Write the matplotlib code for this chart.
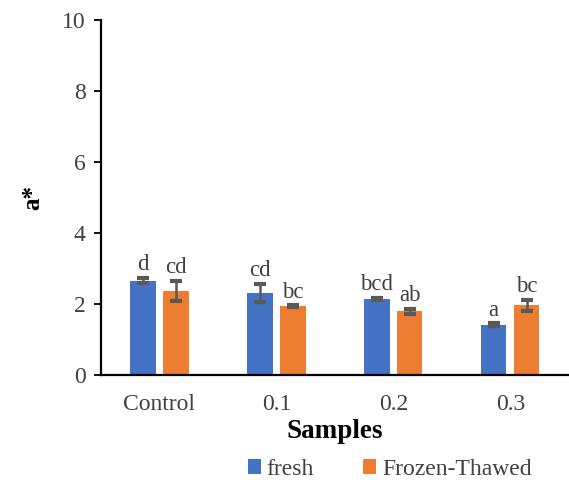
import numpy as np
import matplotlib
matplotlib.use("Agg")
import matplotlib.pyplot as plt

samples = ["Control", "0.1", "0.2", "0.3"]
fresh = [2.66, 2.31, 2.14, 1.42]
fresh_err = [0.08, 0.25, 0.03, 0.03]
thawed = [2.37, 1.93, 1.80, 1.96]
thawed_err = [0.29, 0.03, 0.07, 0.15]
fresh_letters = ["d", "cd", "bcd", "a"]
thawed_letters = ["cd", "bc", "ab", "bc"]

BLUE = "#4472c4"; ORANGE = "#ed7d31"; ERR = "#595959"; TXT = "#404040"
plt.rcParams["font.family"] = ["Liberation Serif", "DejaVu Serif"]

fig = plt.figure(figsize=(5.69, 4.80), dpi=100)
ax = fig.add_axes([0.1775, 0.219, 0.822, 0.739])

x = np.arange(len(samples))
w = 0.217; off = 0.141
ax.bar(x - off, fresh, w, color=BLUE, label="fresh", zorder=2)
ax.bar(x + off, thawed, w, color=ORANGE, label="Frozen-Thawed", zorder=2)
for xs, vals, errs in [(x - off, fresh, fresh_err), (x + off, thawed, thawed_err)]:
    ax.errorbar(xs, vals, yerr=errs, fmt="none", ecolor=ERR, elinewidth=1.8,
                capsize=4, capthick=3, zorder=3)

for xs, vals, errs, lets in [(x - off, fresh, fresh_err, fresh_letters),
                              (x + off, thawed, thawed_err, thawed_letters)]:
    for xi, v, e, t in zip(xs, vals, errs, lets):
        ax.annotate(t, (xi, v + e), xytext=(0, 2), textcoords="offset points",
                    ha="center", va="bottom", fontsize=16.5, color=TXT)

ax.set_xlim(-0.5, 3.5)
ax.set_ylim(0, 10)
ax.set_yticks(range(0, 11, 2))
ax.set_xticks(x)
ax.set_xticklabels(samples)
ax.tick_params(axis="x", length=0, labelsize=17, labelcolor=TXT, pad=14)
ax.tick_params(axis="y", length=5, width=1.3, labelsize=17, labelcolor=TXT, pad=6)
for s in ["top", "right"]:
    ax.spines[s].set_visible(False)
for s in ["left", "bottom"]:
    ax.spines[s].set_linewidth(1.6)

ax.set_xlabel("Samples", fontsize=19.5, fontweight="bold", labelpad=3)
ax.set_ylabel("a*", fontsize=18, fontweight="bold", labelpad=13)

fig.legend(loc="center", bbox_to_anchor=(0.685, 0.022), ncol=2, frameon=False,
           fontsize=17, handlelength=0.55, handleheight=0.55, handletextpad=0.25,
           columnspacing=2.1, labelcolor=TXT, borderaxespad=0)

fig.savefig("out.png", dpi=100)
